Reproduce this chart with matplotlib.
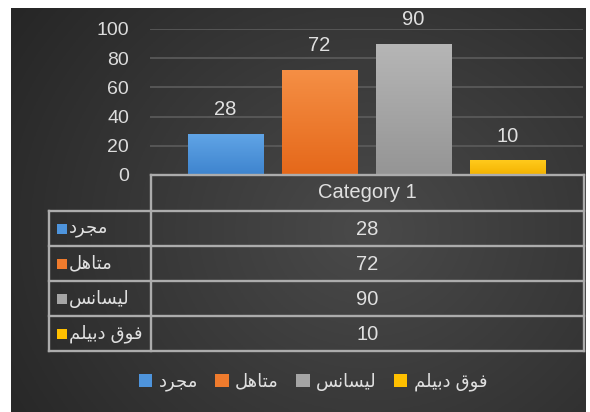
import numpy as np
import matplotlib
matplotlib.use('Agg')
import matplotlib.pyplot as plt
from matplotlib.patches import Rectangle, Patch
from matplotlib.lines import Line2D

plt.rcParams['font.family'] = ['Liberation Sans', 'DejaVu Sans']

# ---------------- data ----------------
categories = ['Category 1']
series_names = ['مجرد', 'متاهل', 'ليسانس', 'فوق دبيلم']
values = [28, 72, 90, 10]
yticks = [0, 20, 40, 60, 80, 100]
colors_top = ['#60a4e6', '#f58f45', '#b6b6b6', '#ffca1c']
colors_bot = ['#3e84ce', '#e5681a', '#959595', '#f3b200']
legend_colors = ['#4e94dc', '#ef7b2d', '#a5a5a5', '#ffc000']

# ------------- minimal Arabic shaping (presentation forms + visual order) -------------
FORMS = {
    '\u0627': ('\uFE8D', '\uFE8E', None, None),       # alef
    '\u0628': ('\uFE8F', '\uFE90', '\uFE91', '\uFE92'),  # beh
    '\u062A': ('\uFE95', '\uFE96', '\uFE97', '\uFE98'),  # teh
    '\u062C': ('\uFE9D', '\uFE9E', '\uFE9F', '\uFEA0'),  # jeem
    '\u062F': ('\uFEA9', '\uFEAA', None, None),       # dal
    '\u0631': ('\uFEAD', '\uFEAE', None, None),       # reh
    '\u0633': ('\uFEB1', '\uFEB2', '\uFEB3', '\uFEB4'),  # seen
    '\u0641': ('\uFED1', '\uFED2', '\uFED3', '\uFED4'),  # feh
    '\u0642': ('\uFED5', '\uFED6', '\uFED7', '\uFED8'),  # qaf
    '\u0644': ('\uFEDD', '\uFEDE', '\uFEDF', '\uFEE0'),  # lam
    '\u0645': ('\uFEE1', '\uFEE2', '\uFEE3', '\uFEE4'),  # meem
    '\u0646': ('\uFEE5', '\uFEE6', '\uFEE7', '\uFEE8'),  # noon
    '\u0647': ('\uFEE9', '\uFEEA', '\uFEEB', '\uFEEC'),  # heh
    '\u0648': ('\uFEED', '\uFEEE', None, None),       # waw
    '\u064A': ('\uFEF1', '\uFEF2', '\uFEF3', '\uFEF4'),  # yeh
}


def shape(s):
    out = []
    for i, c in enumerate(s):
        if c not in FORMS:
            out.append(c)
            continue
        iso, fin, ini, med = FORMS[c]
        prev = s[i - 1] if i > 0 else None
        nxt = s[i + 1] if i + 1 < len(s) else None
        jp = prev in FORMS and FORMS[prev][2] is not None
        jn = ini is not None and nxt in FORMS
        if jp and jn:
            out.append(med)
        elif jp:
            out.append(fin)
        elif jn:
            out.append(ini)
        else:
            out.append(iso)
    return ''.join(reversed(out))


W, H = 590, 412
fig = plt.figure(figsize=(W / 100, H / 100), dpi=100, facecolor='white')


def px(x, y):
    return x / W, 1 - y / H


# ------------- background -------------
bg = fig.add_axes([11 / W, 0, (586 - 11) / W, (H - 8) / H])
yy, xx = np.mgrid[0:1:200j, 0:1:300j]
r = np.sqrt(((xx - 0.62) / 0.75) ** 2 + ((yy - 0.45) / 0.95) ** 2)
v = 0.29 - 0.14 * np.clip(r, 0, 1)
bg.imshow(np.dstack([v, v, v]), aspect='auto', extent=[0, 1, 0, 1], origin='lower')
bg.set_axis_off()

# ------------- main axes -------------
ax = fig.add_axes([150 / W, 1 - 175 / H, (583 - 150) / W, (175 - 29) / H])
ax.patch.set_alpha(0)
x = np.arange(len(values))
bw = 0.8
bars = ax.bar(x, values, width=bw, color=legend_colors, zorder=2)
for i, b in enumerate(bars):
    c0 = np.array(matplotlib.colors.to_rgb(colors_bot[i]))
    c1 = np.array(matplotlib.colors.to_rgb(colors_top[i]))
    t = np.linspace(0, 1, 64)[:, None]
    grad = (c0[None, :] * (1 - t) + c1[None, :] * t)[:, None, :]
    im = ax.imshow(grad, extent=[x[i] - bw / 2, x[i] + bw / 2, 0, values[i]],
                   aspect='auto', origin='lower', zorder=2.1)
    im.set_clip_path(b)
    ax.annotate(str(values[i]), (x[i], values[i]), xytext=(0, 17.5),
                textcoords='offset points', ha='center', va='center',
                fontsize=14.5, color='#e0e0e0')

ax.set_xlim(-0.8, 3.8)
ax.set_ylim(0, 100)
ax.set_yticks(yticks)
ax.set_xticks([])
ax.yaxis.grid(True, color='#5c5c5c', lw=1.2)
ax.set_axisbelow(True)
for s in ax.spines.values():
    s.set_visible(False)
ax.tick_params(axis='y', length=0, labelcolor='#dcdcdc', labelsize=14, pad=15)

# ------------- data table -------------
lc = '#acacac'
lw = 1.7
rows_y = [175, 211, 246, 281, 316, 351]


def fline(x0, y0, x1, y1):
    a = px(x0, y0)
    b = px(x1, y1)
    fig.add_artist(Line2D([a[0], b[0]], [a[1], b[1]], color=lc, lw=lw,
                          transform=fig.transFigure, zorder=5))


fline(151, 175, 584, 175)
for yv in rows_y[1:]:
    fline(49, yv, 584, yv)
fline(151, 175, 151, 351)
fline(584, 175, 584, 351)
fline(49, 211, 49, 351)

cx = (151 + 584) / 2
fig.text(*px(cx, 193), categories[0], ha='center', va='center', fontsize=14.5,
         color='#e0e0e0')
for i, val in enumerate(values):
    yc = (rows_y[i + 1] + rows_y[i + 2]) / 2
    fig.text(*px(cx, yc + 1), str(val), ha='center', va='center', fontsize=14.5,
             color='#e0e0e0')
    kx, ky = px(57, yc + 5)
    fig.add_artist(Rectangle((kx, ky), 10 / W, 10 / H, transform=fig.transFigure,
                             facecolor=legend_colors[i], edgecolor='none', zorder=6))
    fig.text(*px(69, yc), shape(series_names[i]), ha='left', va='center', fontsize=13,
             color='#e0e0e0')

# ------------- legend -------------
handles = [Patch(facecolor=legend_colors[i], edgecolor='none') for i in range(len(values))]
leg = fig.legend(handles, [shape(n) for n in series_names], ncol=4, loc='center',
                 bbox_to_anchor=px(313, 382), frameon=False, fontsize=13,
                 handlelength=0.75, handleheight=0.75, handletextpad=0.35,
                 columnspacing=0.95, labelcolor='#e0e0e0')

fig.savefig('out.png', dpi=100, facecolor='white')
